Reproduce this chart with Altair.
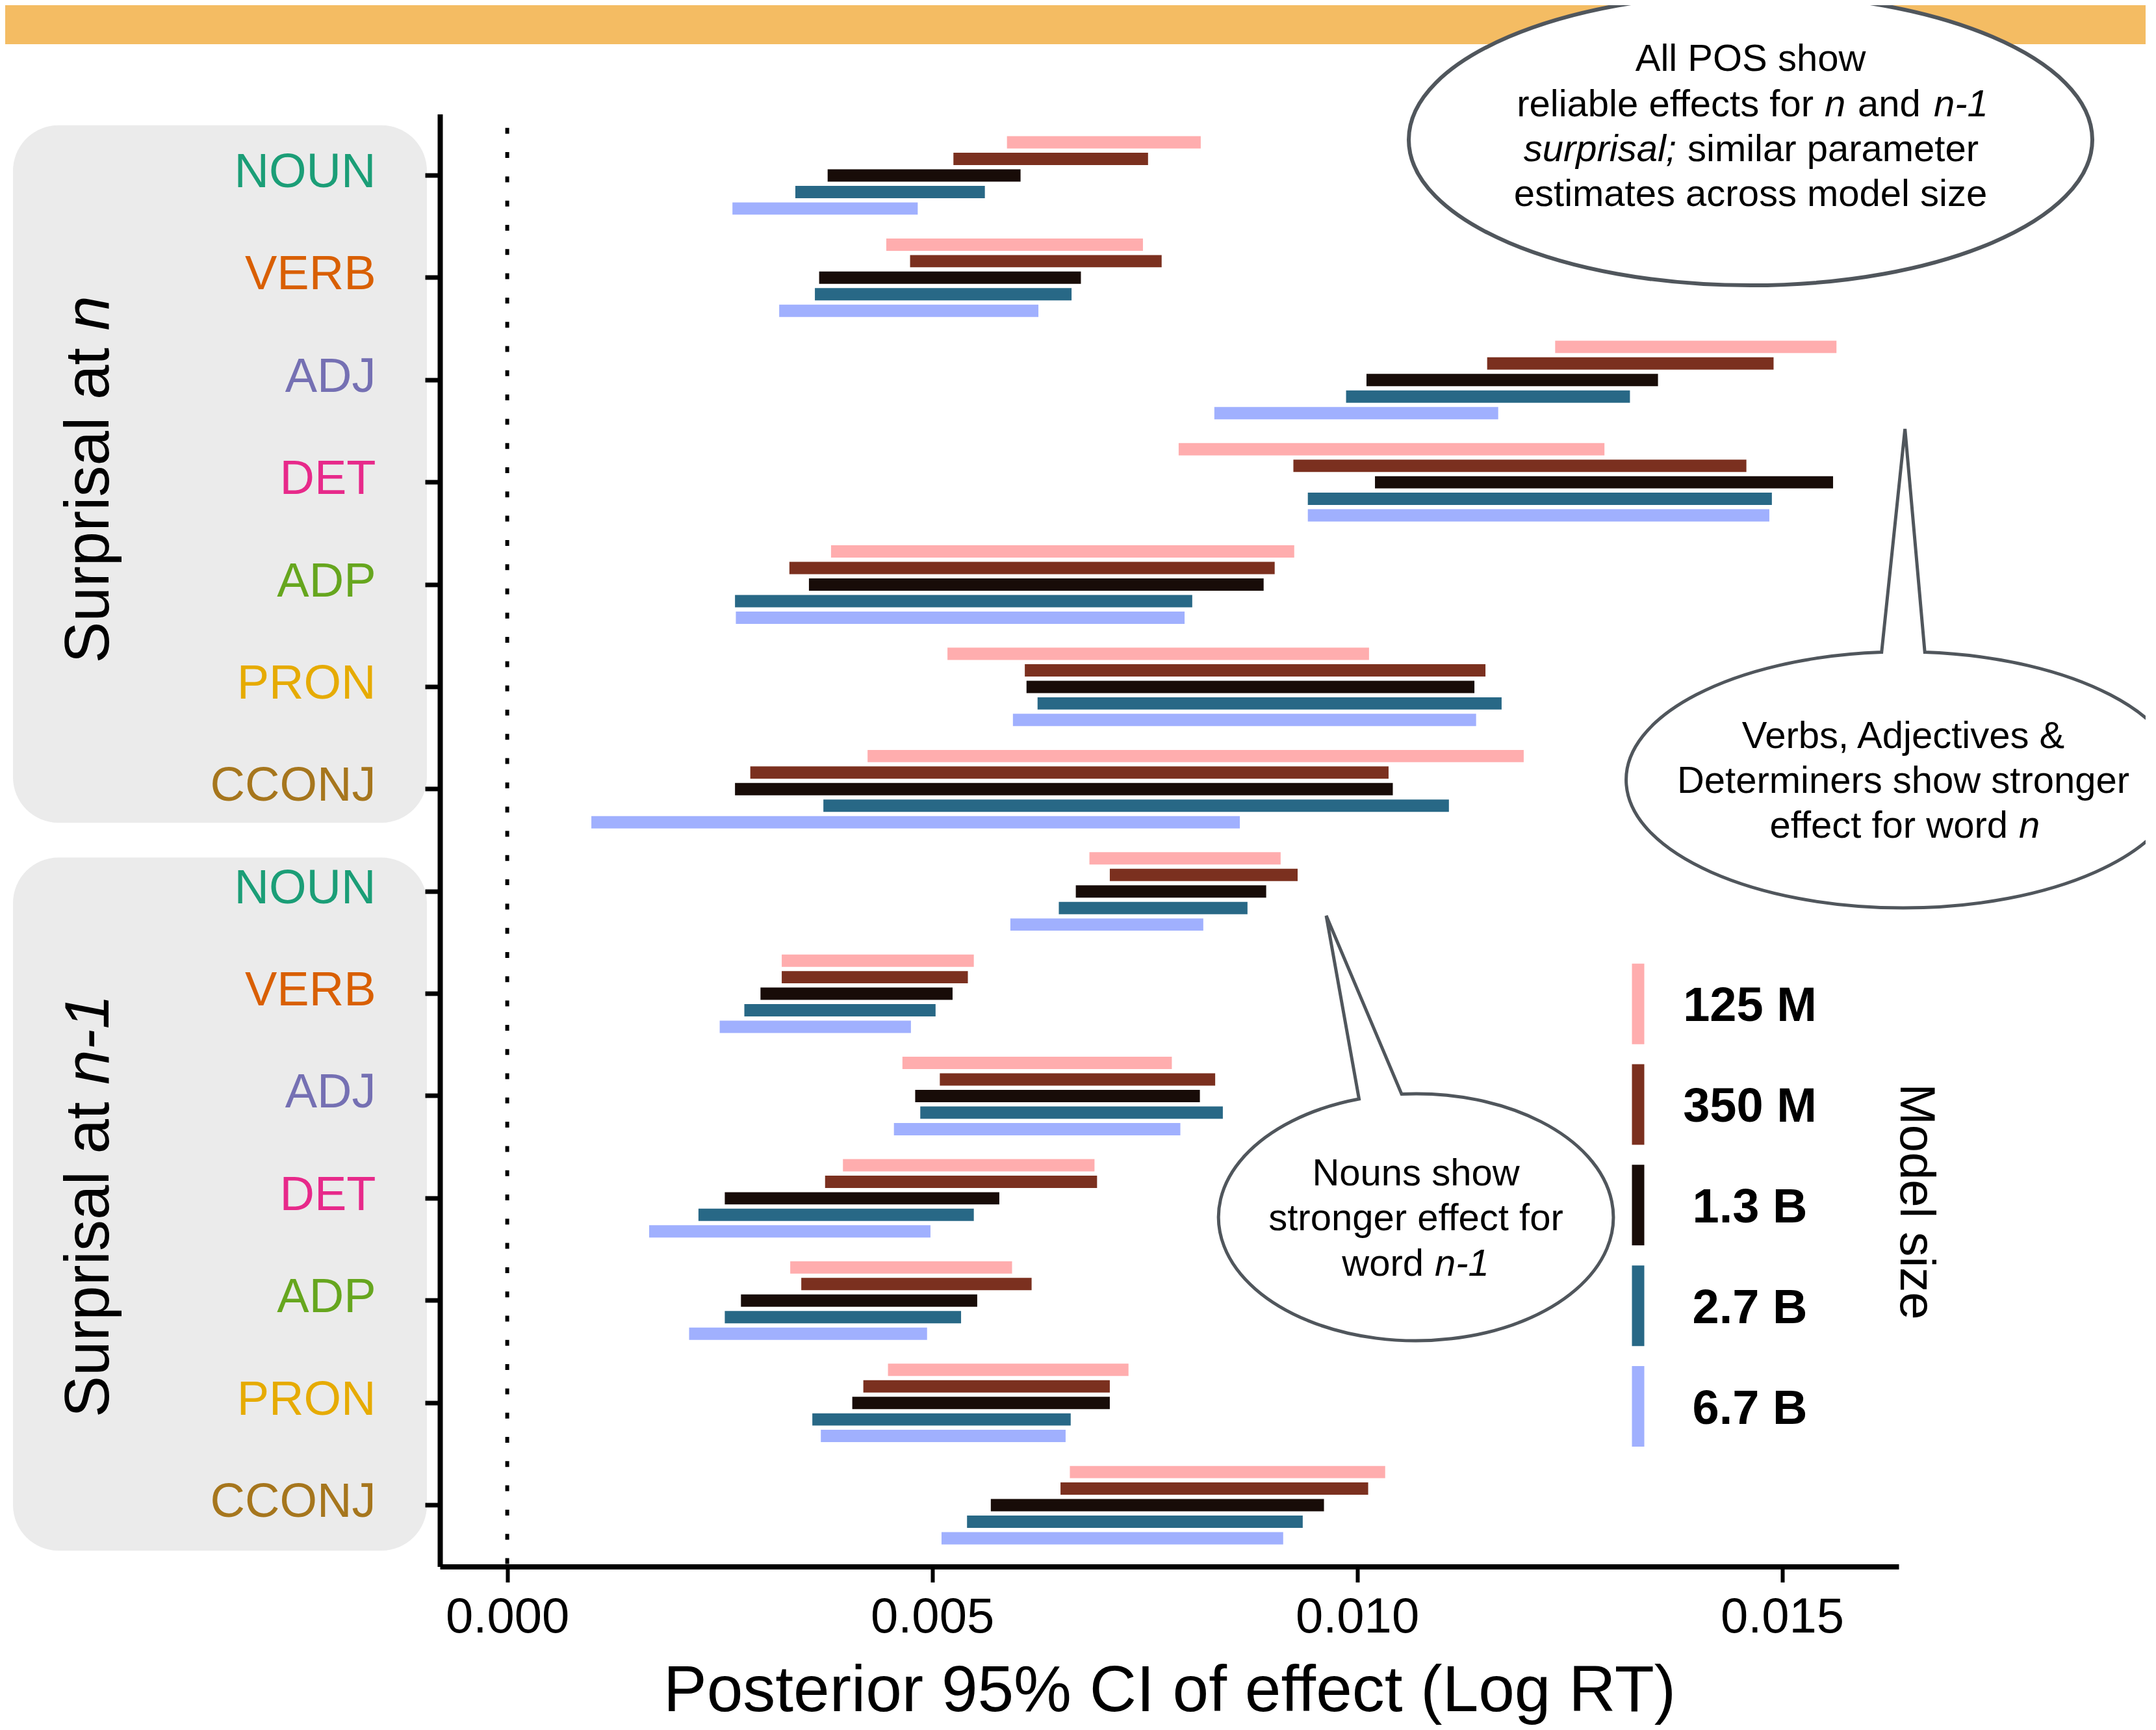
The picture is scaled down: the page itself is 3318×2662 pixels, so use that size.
import altair as alt
import pandas as pd

FONT = "Liberation Sans"

# ---------------- data ----------------
GROUPS = ["n", "n-1"]
POS = ["NOUN", "VERB", "ADJ", "DET", "ADP", "PRON", "CCONJ"]
POS_COLORS = ["#1B9E77", "#D95F02", "#7570B3", "#E7298A", "#66A61E", "#E6AB02", "#A6761D"]
MODELS = ["125 M", "350 M", "1.3 B", "2.7 B", "6.7 B"]
MODEL_COLORS = ["#FFADAE", "#7B301F", "#180C08", "#286886", "#A0B0FE"]

# Surprisal at n : lower / upper bound of 95% CI per POS, models in MODELS order
N_LOWER = {
    "NOUN": [0.00588, 0.00525, 0.00377, 0.00339, 0.00265],
    "VERB": [0.00446, 0.00474, 0.00367, 0.00362, 0.00320],
    "ADJ": [0.01233, 0.01153, 0.01011, 0.00987, 0.00832],
    "DET": [0.00790, 0.00925, 0.01021, 0.00942, 0.00942],
    "ADP": [0.00381, 0.00332, 0.00355, 0.00268, 0.00269],
    "PRON": [0.00518, 0.00609, 0.00611, 0.00624, 0.00595],
    "CCONJ": [0.00424, 0.00286, 0.00268, 0.00372, 0.00099],
}
N_UPPER = {
    "NOUN": [0.00816, 0.00754, 0.00604, 0.00562, 0.00483],
    "VERB": [0.00748, 0.00770, 0.00675, 0.00664, 0.00625],
    "ADJ": [0.01564, 0.01490, 0.01354, 0.01321, 0.01166],
    "DET": [0.01291, 0.01458, 0.01560, 0.01488, 0.01485],
    "ADP": [0.00926, 0.00903, 0.00890, 0.00806, 0.00797],
    "PRON": [0.01014, 0.01151, 0.01138, 0.01170, 0.01140],
    "CCONJ": [0.01196, 0.01037, 0.01042, 0.01108, 0.00862],
}
# Surprisal at n-1
N1_LOWER = {
    "NOUN": [0.00685, 0.00709, 0.00669, 0.00649, 0.00592],
    "VERB": [0.00323, 0.00323, 0.00298, 0.00279, 0.00250],
    "ADJ": [0.00465, 0.00509, 0.00480, 0.00486, 0.00455],
    "DET": [0.00395, 0.00374, 0.00256, 0.00225, 0.00167],
    "ADP": [0.00333, 0.00346, 0.00275, 0.00256, 0.00214],
    "PRON": [0.00448, 0.00419, 0.00406, 0.00359, 0.00369],
    "CCONJ": [0.00662, 0.00651, 0.00569, 0.00541, 0.00511],
}
N1_UPPER = {
    "NOUN": [0.00910, 0.00930, 0.00893, 0.00871, 0.00819],
    "VERB": [0.00549, 0.00542, 0.00524, 0.00504, 0.00475],
    "ADJ": [0.00782, 0.00833, 0.00815, 0.00842, 0.00792],
    "DET": [0.00691, 0.00694, 0.00579, 0.00549, 0.00498],
    "ADP": [0.00594, 0.00617, 0.00553, 0.00534, 0.00494],
    "PRON": [0.00731, 0.00709, 0.00709, 0.00663, 0.00657],
    "CCONJ": [0.01033, 0.01013, 0.00961, 0.00936, 0.00913],
}
X_TICKS = [0.0, 0.005, 0.010, 0.015]
X_DOMAIN = [-0.000792, 0.016372]

rows = []
for g, lo_d, hi_d in [("n", N_LOWER, N_UPPER), ("n-1", N1_LOWER, N1_UPPER)]:
    for p in POS:
        for m, lo, hi in zip(MODELS, lo_d[p], hi_d[p]):
            rows.append({"key": f"{g}|{p}", "pos": p, "model": m, "lo": lo, "hi": hi})
df = pd.DataFrame(rows)
KEYS = [f"{g}|{p}" for g in GROUPS for p in POS]

# ---------------- layout ----------------
OX, OY = 677, 175.5          # plot origin on the page
W, H = 2245, 2235
dummy = alt.Data(values=[{"a": 1}])

x_scale = alt.Scale(domain=X_DOMAIN, nice=False, zero=False)
x_axis = alt.Axis(
    values=X_TICKS, format=".3f", title="Posterior 95% CI of effect (Log RT)",
    grid=False, domainColor="black", domainWidth=8, tickColor="black", tickWidth=6,
    tickSize=24, labelFont=FONT, labelFontSize=76, labelColor="black", labelPadding=17,
    labelLimit=0, titleFont=FONT, titleFontSize=100, titleFontWeight="normal",
    titleColor="black", titlePadding=27, titleLimit=0, zindex=1,
)
label_color = {
    "condition": [
        {"test": f"split(datum.value, '|')[1] == '{p}'", "value": c}
        for p, c in zip(POS, POS_COLORS)
    ],
    "value": "black",
}
y_axis = alt.Axis(
    title=None, grid=False, labelExpr="split(datum.value, '|')[1]",
    labelColor=label_color, labelFont=FONT, labelFontSize=74, labelPadding=76,
    labelOffset=-4, labelLimit=0, domainColor="black", domainWidth=8, tickColor="black",
    tickWidth=7, tickSize=23, zindex=1,
)
model_color = alt.Color("model:N", sort=MODELS,
                        scale=alt.Scale(domain=MODELS, range=MODEL_COLORS), legend=None)


def rect(x1, x2, y1, y2, color, radius=0):
    return alt.Chart(dummy).mark_rect(color=color, cornerRadius=radius).encode(
        x=alt.value(x1 - OX), x2=alt.value(x2 - OX),
        y=alt.value(y1 - OY), y2=alt.value(y2 - OY))


def txt(s, x, y, size=58, style="normal", align="center", angle=0,
        weight="normal", baseline="alphabetic"):
    return alt.Chart(dummy).mark_text(
        text=s, font=FONT, fontSize=size, fontStyle=style, align=align, angle=angle,
        fontWeight=weight, baseline=baseline, color="black",
    ).encode(x=alt.value(x - OX), y=alt.value(y - OY))


def bubble(path, cx, cy, a, sw):
    return alt.Chart(dummy).mark_point(
        shape=path, size=(2 * a) ** 2, filled=True, fill="white", stroke="#50565C",
        strokeWidth=sw, opacity=1,
    ).encode(x=alt.value(cx - OX), y=alt.value(cy - OY))


layers = []
# orange band & grey strip panels
layers.append(rect(0, 3318, 0, 68, "#F4BC63"))
layers.append(rect(20, 657, 192.7, 1266, "#EBEBEB", 70))
layers.append(rect(20, 657, 1319.6, 2386, "#EBEBEB", 70))

# zero reference line
layers.append(
    alt.Chart(dummy).mark_rule(color="black", strokeWidth=6, strokeDash=[9, 28.3],
                               strokeDashOffset=16, strokeCap="butt").encode(
        x=alt.XDatum(0, type="quantitative", scale=x_scale, axis=x_axis),
        y=alt.value(0), y2=alt.value(H))
)

# CI bars
layers.append(
    alt.Chart(df).mark_bar(opacity=1).encode(
        x=alt.X("lo:Q", scale=x_scale, axis=x_axis),
        x2="hi:Q",
        y=alt.Y("key:N", sort=KEYS, scale=alt.Scale(paddingInner=0, paddingOuter=0.1), axis=y_axis),
        yOffset=alt.YOffset("model:N", sort=MODELS,
                            scale=alt.Scale(paddingInner=0.255, paddingOuter=0.7175)),
        color=model_color,
    )
)

# legend
leg_df = pd.DataFrame({"model": MODELS})
leg_y = alt.Y("model:N", sort=MODELS,
              scale=alt.Scale(type="point", domain=MODELS, range=[1369.2, 1988.5], padding=0),
              axis=None)
layers.append(
    alt.Chart(leg_df).mark_point(shape="M0,-1L0,1", size=124 ** 2, strokeWidth=19, opacity=1,
                                 filled=False, strokeCap="butt").encode(
        x=alt.value(2521 - OX), y=leg_y, color=model_color)
)
layers.append(
    alt.Chart(leg_df).mark_text(font=FONT, fontSize=74, fontWeight="bold", align="center",
                                baseline="alphabetic", dy=26.5, color="black").encode(
        x=alt.value(2693 - OX), y=leg_y, text="model:N")
)
layers.append(txt("Model size", 2925, 1849, size=76, angle=90))

# strip labels
layers.append(txt("Surprisal at", 167, 535, size=96, align="right", angle=270))
layers.append(txt("n", 167, 508.4, size=96, style="italic", align="left", angle=270))
layers.append(txt("Surprisal at", 167, 1695.5, size=96, align="right", angle=270))
layers.append(txt("n-1", 167, 1668.8, size=96, style="italic", align="left", angle=270))

# speech bubbles
layers.append(bubble("M -1 0 A 1 0.426 0 1 1 1 0 A 1 0.426 0 1 1 -1 0 Z", 2694, 215, 526, 6))
layers.append(bubble("M -0.078 -0.4606 L 0.0063 -1.2664 L 0.0779 -0.4606 "
                     "A 1 0.462 0 1 1 -0.078 -0.4606 Z", 2929, 1200, 426.4, 5))
layers.append(bubble("M -0.288 -0.5989 L -0.4542 -1.5273 L -0.0724 -0.6238 "
                     "A 1 0.6254 0 1 1 -0.288 -0.5989 Z", 2179, 1873, 303.8, 5))

# bubble 1 text
layers.append(txt("All POS show", 2694, 109))
layers.append(txt("reliable effects for", 2791, 179, align="right"))
layers.append(txt("n", 2808, 179, style="italic", align="left"))
layers.append(txt("and", 2859, 179, align="left"))
layers.append(txt("n-1", 2976, 179, style="italic", align="left"))
layers.append(txt("surprisal;", 2580, 248, style="italic", align="right"))
layers.append(txt("similar parameter", 2597, 248, align="left"))
layers.append(txt("estimates across model size", 2694, 317))
# bubble 2 text
layers.append(txt("Verbs, Adjectives &", 2929, 1151))
layers.append(txt("Determiners show stronger", 2929, 1220))
layers.append(txt("effect for word", 3090, 1289, align="right"))
layers.append(txt("n", 3107, 1289, style="italic", align="left"))
# bubble 3 text
layers.append(txt("Nouns show", 2179, 1824))
layers.append(txt("stronger effect for", 2179, 1893.4))
layers.append(txt("word", 2191, 1962.6, align="right"))
layers.append(txt("n-1", 2208, 1962.6, style="italic", align="left"))

chart = (
    alt.layer(*layers)
    .resolve_scale(y="independent")
    .properties(
        width=W, height=H,
        autosize=alt.AutoSizeParams(type="none"),
        padding={"left": OX - 8, "top": OY - 8, "right": 380, "bottom": 243},
        background="white",
    )
    .configure_view(stroke=None)
)

chart.save("out.html", embed_options={"renderer": "svg", "actions": False})
